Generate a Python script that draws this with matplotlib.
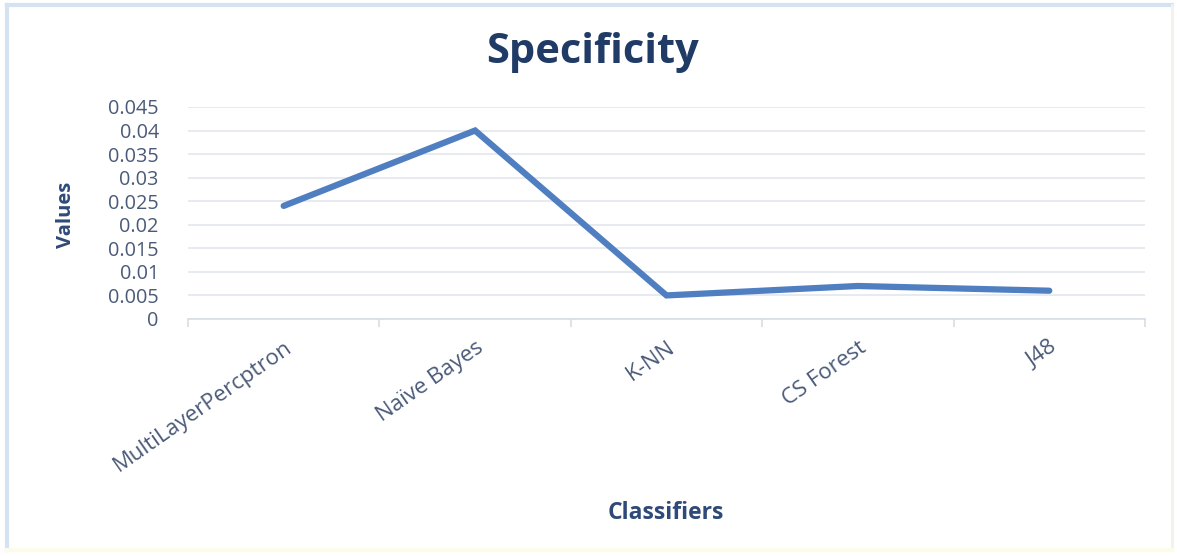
import matplotlib.pyplot as plt
from matplotlib.lines import Line2D

classifiers = ["MultiLayerPercptron", "Naïve Bayes", "K-NN", "CS Forest", "J48"]
specificity = [0.024, 0.040, 0.005, 0.007, 0.006]
yticks = [0, 0.005, 0.01, 0.015, 0.02, 0.025, 0.03, 0.035, 0.04, 0.045]
ytick_labels = ["0", "0.005", "0.01", "0.015", "0.02", "0.025", "0.03", "0.035", "0.04", "0.045"]

plt.rcParams['font.family'] = ['Open Sans', 'DejaVu Sans']

fig = plt.figure(figsize=(11.77, 5.56), dpi=100)
fig.patch.set_facecolor("white")

# chart frame: blue top/left edges, faint right/bottom edges
fig.lines.append(Line2D([0.006, 0.996], [0.991, 0.991], transform=fig.transFigure,
                        color="#d4e2f2", linewidth=3))
fig.lines.append(Line2D([0.006, 0.006], [0.01, 0.991], transform=fig.transFigure,
                        color="#d4e2f2", linewidth=3))
fig.lines.append(Line2D([0.996, 0.996], [0.01, 0.991], transform=fig.transFigure,
                        color="#f4f1ec", linewidth=2))
fig.lines.append(Line2D([0.006, 0.996], [0.01, 0.01], transform=fig.transFigure,
                        color="#fdfbea", linewidth=3))

ax = fig.add_axes([0.1597, 0.4263, 0.8131, 0.3813])
x = list(range(len(classifiers)))
ax.plot(x, specificity, color="#4f7fc0", linewidth=4.5, solid_capstyle="round",
        solid_joinstyle="miter")

ax.set_xlim(-0.5, len(classifiers) - 0.5)
ax.set_ylim(0, 0.045)
ax.set_yticks(yticks)
ax.set_yticklabels(ytick_labels)
ax.yaxis.grid(True, color="#e3e6ec", linewidth=1.2)
ax.set_axisbelow(True)

ax.set_xticks(x)
ax.set_xticklabels(classifiers, rotation=35, ha="right", rotation_mode="anchor")
ax.set_xticks([i - 0.5 for i in range(len(classifiers) + 1)], minor=True)
ax.tick_params(axis="x", which="major", length=0, pad=13, labelsize=16, labelcolor="#4a5a78")
ax.tick_params(axis="x", which="minor", length=6, color="#d9dde5", width=1.2)
ax.tick_params(axis="y", length=0, pad=21, labelsize=14.3, labelcolor="#4a5a78")

for side in ["top", "right", "left"]:
    ax.spines[side].set_visible(False)
ax.spines["bottom"].set_color("#d9dde5")
ax.spines["bottom"].set_linewidth(1.2)

fig.text(0.503, 0.905, "Specificity", ha="center", va="center", fontsize=30,
         fontweight="bold", color="#1f3b66")
fig.text(0.566, 0.077, "Classifiers", ha="center", va="center", fontsize=16.5,
         fontweight="bold", color="#2f4a78")
fig.text(0.056, 0.613, "Values", ha="center", va="center", rotation=90, fontsize=14.5,
         fontweight="bold", color="#2f4a78")

fig.savefig("out.png", dpi=100)
